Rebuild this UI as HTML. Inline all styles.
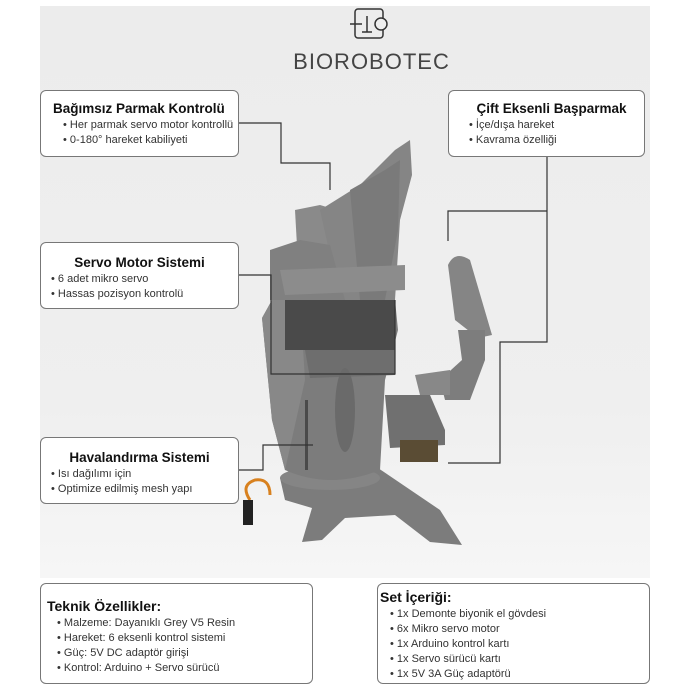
<!DOCTYPE html>
<html><head><meta charset="utf-8"><style>
body{margin:0;width:690px;height:690px;background:#fff;position:relative;overflow:hidden;font-family:"Liberation Sans",sans-serif;color:#222}
.bg{position:absolute;left:40px;top:6px;width:610px;height:572px;background:linear-gradient(#ececec,#efefef 70%,#f6f6f6)}
svg{position:absolute;left:0;top:0}
.box{position:absolute;background:#fff;border:1px solid #777;border-radius:6px;box-sizing:border-box;font-size:11px;line-height:15px;color:#333}
.box h3{margin:0 0 1px;font-size:13.5px;font-weight:bold;color:#111;text-align:center;line-height:17px}
.box ul{margin:0;padding:0 0 0 10px;list-style:none}
.box li:before{content:"• ";}
.logo{position:absolute;left:285px;top:49px;width:173px;text-align:center;font-size:22px;letter-spacing:1px;color:#444;font-weight:normal}
</style></head><body>
<div class="bg"></div>
<svg width="690" height="690" viewBox="0 0 690 690">
 <rect x="355" y="9" width="28" height="29" rx="3" fill="none" stroke="#333" stroke-width="1.5"/>
 <line x1="350" y1="24" x2="362" y2="24" stroke="#333" stroke-width="1.5"/>
 <line x1="367" y1="16" x2="367" y2="32" stroke="#333" stroke-width="1.5"/>
 <line x1="362" y1="32" x2="372" y2="32" stroke="#333" stroke-width="1.5"/>
 <circle cx="381" cy="24" r="6" fill="#efefef" stroke="#333" stroke-width="1.5"/>
 <g fill="#7c7c7c">
  <path d="M280 478 L378 468 L440 510 L462 545 L430 542 L395 515 L345 518 L322 540 L302 542 L312 508 L285 500 Z"/>
  <ellipse cx="330" cy="478" rx="50" ry="12" fill="#858585"/>
  <path d="M262 318 L272 300 L395 300 L398 330 L385 380 L380 470 Q330 490 285 470 L272 420 Z"/>
  <path d="M262 318 L272 300 L300 300 L305 380 L285 470 L272 420 Z" fill="#888"/>
  <path d="M305 350 L395 350 L395 375 L310 378 Z" fill="#6e6e6e"/>
  <rect x="285" y="295" width="110" height="55" fill="#4a4a4a"/>
  <path d="M295 210 L320 205 L370 220 L380 300 L300 300 Z" fill="#8a8a8a"/>
  <path d="M320 210 L360 185 L395 150 L410 140 L412 175 L400 220 L395 300 L340 300 Z" fill="#858585"/>
  <path d="M350 190 L385 170 L400 160 L398 230 L385 300 L360 300 Z" fill="#7a7a7a"/>
  <path d="M270 250 L300 240 L330 245 L345 300 L270 300 Z" fill="#808080"/>
  <path d="M280 270 L405 265 L405 290 L285 295 Z" fill="#8c8c8c"/>
  <path d="M448 265 Q455 250 470 260 L492 335 L478 338 L455 320 Z" fill="#858585"/>
  <path d="M458 330 L485 330 L485 360 L470 400 L445 400 L440 380 L462 360 Z" fill="#7d7d7d"/>
  <path d="M415 375 L450 370 L450 395 L420 395 Z" fill="#888"/>
  <path d="M385 395 L430 395 L445 430 L445 445 L390 448 Z" fill="#707070"/>
  <rect x="400" y="440" width="38" height="22" fill="#5a4c34"/>
 </g>
 <g fill="#444">
  <ellipse cx="345" cy="410" rx="10" ry="42" fill="#6a6a6a"/>
  <rect x="305" y="400" width="3" height="70" fill="#4a4a4a"/>
 </g>
 <path d="M250 500 Q240 485 255 480 Q270 478 270 495" fill="none" stroke="#d8811f" stroke-width="3"/>
 <rect x="243" y="500" width="10" height="25" fill="#222"/>
 <g fill="none" stroke="#333" stroke-width="1.2">
  <path d="M239 123 H281 V163 H330 V190"/>
  <path d="M239 275 H271 V374 H395 V300"/>
  <path d="M239 470 H263 V445 H313"/>
  <path d="M547 157 V342 H500 V463 H448"/>
  <path d="M547 211 H448 V241"/>
 </g>
</svg>
<div class="logo">BIOROBOTEC</div>
<div class="box" style="left:40px;top:90px;width:199px;height:67px;padding:9px 0 0 12px"><h3 style="text-align:left">Bağımsız Parmak Kontrolü</h3><ul><li>Her parmak servo motor kontrollü</li><li>0-180° hareket kabiliyeti</li></ul></div>
<div class="box" style="left:448px;top:90px;width:197px;height:67px;padding:9px 0 0 10px"><h3>Çift Eksenli Başparmak</h3><ul><li>İçe/dışa hareket</li><li>Kavrama özelliği</li></ul></div>
<div class="box" style="left:40px;top:242px;width:199px;height:67px;padding:11px 0 0 0"><h3>Servo Motor Sistemi</h3><ul><li>6 adet mikro servo</li><li>Hassas pozisyon kontrolü</li></ul></div>
<div class="box" style="left:40px;top:437px;width:199px;height:67px;padding:11px 0 0 0"><h3>Havalandırma Sistemi</h3><ul><li>Isı dağılımı için</li><li>Optimize edilmiş mesh yapı</li></ul></div>
<div class="box" style="left:40px;top:583px;width:273px;height:101px;padding:14px 0 0 6px"><h3 style="text-align:left;font-size:14px">Teknik Özellikler:</h3><ul><li>Malzeme: Dayanıklı Grey V5 Resin</li><li>Hareket: 6 eksenli kontrol sistemi</li><li>Güç: 5V DC adaptör girişi</li><li>Kontrol: Arduino + Servo sürücü</li></ul></div>
<div class="box" style="left:377px;top:583px;width:273px;height:101px;padding:5px 0 0 2px"><h3 style="text-align:left;font-size:14px">Set İçeriği:</h3><ul style="padding-left:10px"><li>1x Demonte biyonik el gövdesi</li><li>6x Mikro servo motor</li><li>1x Arduino kontrol kartı</li><li>1x Servo sürücü kartı</li><li>1x 5V 3A Güç adaptörü</li></ul></div>
</body></html>
